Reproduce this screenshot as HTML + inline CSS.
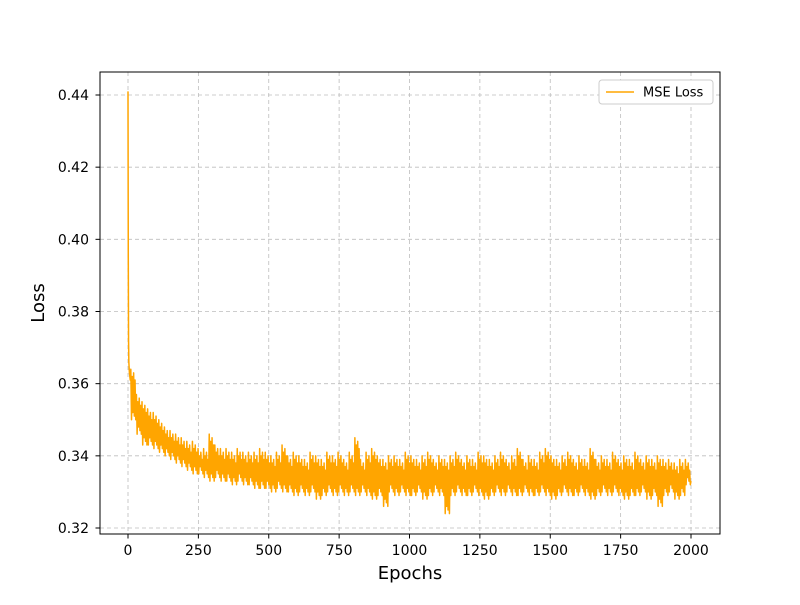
<!DOCTYPE html>
<html><head><meta charset="utf-8"><style>
body{margin:0;background:#fff;font-family:"Liberation Sans","DejaVu Sans",sans-serif;}
</style></head><body>
<svg id="chart" width="800" height="600" xmlns="http://www.w3.org/2000/svg" font-family="DejaVu Sans, Liberation Sans, sans-serif">
<rect width="800" height="600" fill="#fff"/>
<g id="grid"></g>
<g id="series"></g>
<rect x="100" y="72" width="620" height="462" fill="none" stroke="#000" stroke-width="1"/>
<g id="ticks"></g>
<text x="410" y="579" text-anchor="middle" font-size="18">Epochs</text>
<text transform="translate(44,303) rotate(-90)" text-anchor="middle" font-size="18">Loss</text>
<g>
<rect x="599" y="80" width="114" height="24" rx="3" fill="#fff" stroke="#ccc"/>
<line x1="606" y1="92" x2="634" y2="92" stroke="#ffa500" stroke-width="1.5"/>
<text x="643" y="96.5" font-size="13">MSE Loss</text>
</g>
</svg>
<script>
const xTicks=[0,250,500,750,1000,1250,1500,1750,2000];
const yTicks=[0.32,0.34,0.36,0.38,0.40,0.42,0.44];
const yTickLabels=["0.32","0.34","0.36","0.38","0.40","0.42","0.44"];
const earlyEpochs=[0,1,2,3,5,8];
const earlyLoss=[0.441,0.395,0.372,0.366,0.363,0.361];
const binHigh=[0.364,0.357,0.355,0.353,0.352,0.350,0.348,0.347,0.346,0.345,
0.344,0.344,0.342,0.342,0.346,0.343,0.342,0.342,0.341,0.342,
0.341,0.341,0.341,0.342,0.341,0.340,0.341,0.343,0.340,0.341,
0.340,0.339,0.341,0.340,0.339,0.341,0.340,0.341,0.339,0.341,
0.345,0.339,0.341,0.342,0.340,0.339,0.340,0.340,0.339,0.341,
0.340,0.339,0.340,0.341,0.339,0.340,0.339,0.340,0.341,0.339,
0.340,0.339,0.341,0.340,0.339,0.340,0.341,0.339,0.340,0.342,
0.339,0.340,0.339,0.341,0.342,0.340,0.339,0.340,0.341,0.339,
0.340,0.339,0.342,0.339,0.340,0.339,0.341,0.339,0.340,0.339,
0.341,0.339,0.340,0.339,0.340,0.339,0.339,0.338,0.339,0.339];
const binLow=[0.350,0.346,0.343,0.343,0.342,0.341,0.340,0.339,0.338,0.337,
0.336,0.335,0.335,0.334,0.333,0.334,0.333,0.333,0.332,0.333,
0.332,0.332,0.331,0.331,0.331,0.330,0.331,0.330,0.330,0.329,
0.330,0.329,0.330,0.328,0.329,0.330,0.329,0.330,0.329,0.330,
0.329,0.330,0.329,0.328,0.329,0.326,0.330,0.329,0.330,0.329,
0.329,0.330,0.328,0.329,0.330,0.329,0.324,0.329,0.330,0.329,
0.329,0.330,0.329,0.328,0.329,0.330,0.329,0.330,0.329,0.329,
0.330,0.329,0.329,0.330,0.329,0.328,0.329,0.330,0.329,0.329,
0.330,0.329,0.328,0.329,0.330,0.329,0.330,0.329,0.328,0.329,
0.329,0.330,0.328,0.329,0.326,0.329,0.330,0.328,0.329,0.332];
const epochs=earlyEpochs.slice(), losses=earlyLoss.slice();
for(let i=0;i<binHigh.length;i++){
  const e0=10+i*19.9;
  epochs.push(e0,e0+2.5,e0+5,e0+7.5,e0+10,e0+12.5,e0+15,e0+17.5);
  losses.push(binHigh[i],binLow[i],binHigh[i]-0.002,binLow[i]+0.002,binHigh[i]-0.001,binLow[i]+0.001,binHigh[i]-0.003,binLow[i]);
}
epochs.push(2000);losses.push(0.333);
const NS="http://www.w3.org/2000/svg";
const xs=e=>128+e*(691-128)/2000;
const ys=v=>528-(v-0.32)*(528-95)/0.12;
const grid=document.getElementById('grid'),ticks=document.getElementById('ticks'),series=document.getElementById('series');
function mk(tag,attrs,parent){const el=document.createElementNS(NS,tag);for(const k in attrs)el.setAttribute(k,attrs[k]);parent.appendChild(el);return el;}
xTicks.forEach(t=>{const x=xs(t);
const g=mk('line',{x1:x,x2:x,y1:72,y2:534,stroke:'#bdbdbd','stroke-dasharray':'4,3','stroke-width':0.8},grid);


const tk=mk('line',{x1:x,x2:x,y1:534,y2:538.5,stroke:'#000'},ticks);


const tx=mk('text',{x:x,y:555,'text-anchor':'middle','font-size':14},ticks);tx.textContent=t;

});
yTicks.forEach((t,i)=>{const y=ys(t);
const g=mk('line',{x1:100,x2:720,y1:y,y2:y,stroke:'#bdbdbd','stroke-dasharray':'4,3','stroke-width':0.8},grid);


const tk=mk('line',{x1:95.5,x2:100,y1:y,y2:y,stroke:'#000'},ticks);


const tx=mk('text',{x:89,y:y+5,'text-anchor':'end','font-size':14},ticks);tx.textContent=yTickLabels[i];

});
const d=epochs.map((e,i)=>(i?'L':'M')+xs(e).toFixed(2)+','+ys(losses[i]).toFixed(2)).join('');
const p=mk('path',{d:d,fill:'none',stroke:'#ffa500','stroke-width':1.5,'stroke-linejoin':'round'},series);


</script>
</body></html>
